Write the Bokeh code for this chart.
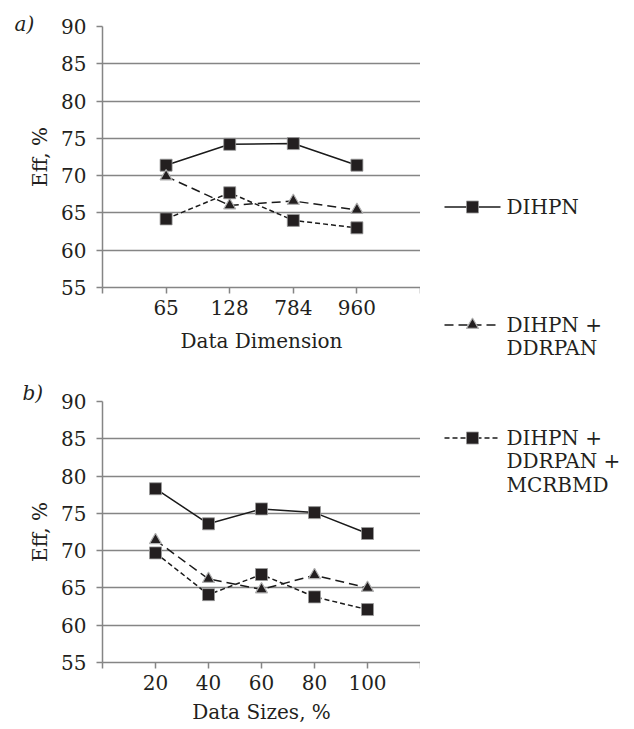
from bokeh.plotting import figure
from bokeh.layouts import row, column
from bokeh.models import Range1d, FixedTicker, Title
from bokeh.core.properties import value
from bokeh.embed import file_html
from bokeh.resources import INLINE

# ---------------- data ----------------
dims = ["65", "128", "784", "960"]
a_dihpn = [71.4, 74.2, 74.3, 71.4]
a_ddrpan = [69.9, 66.0, 66.6, 65.4]
a_mcrbmd = [64.2, 67.7, 64.0, 63.0]

sizes = ["20", "40", "60", "80", "100"]
b_dihpn = [78.3, 73.6, 75.6, 75.1, 72.3]
b_ddrpan = [71.4, 66.2, 64.8, 66.7, 65.0]
b_mcrbmd = [69.7, 64.1, 66.8, 63.8, 62.1]

series_names = ["DIHPN", "DIHPN +\nDDRPAN", "DIHPN +\nDDRPAN +\nMCRBMD"]
y_ticks = [55, 60, 65, 70, 75, 80, 85, 90]

# ---------------- styles ----------------
FONT = "DejaVu Serif"
FS = "20px"
TXT = "#231f20"
GRID = "#858585"
LINE = "#1a1a1a"
styles = [
    dict(dash="solid", marker="square", lc=LINE),
    dict(dash="9 5", marker="triangle", lc=LINE),
    dict(dash="5 3", marker="square", lc=LINE),
]


def add_markers(p, xs, vals, st):
    if st["marker"] == "square":
        p.scatter(xs, vals, marker="square", size=12, fill_color=TXT,
                  line_color="#9a9a9a", line_width=0.8)
    else:
        p.scatter(xs, vals, marker="triangle", size=12, fill_color=TXT,
                  line_color="#b0b0b0", line_width=1.2)


def panel(cats, series, xlabel, tag, top, bottom, tag_off, tag_stand,
          lab_stand, axlab_stand):
    n = len(cats)
    p = figure(frame_width=318, frame_height=261, output_backend="svg",
               toolbar_location=None, x_range=Range1d(0, n + 1),
               y_range=Range1d(55, 90), min_border_left=102,
               min_border_right=0, min_border_top=top,
               min_border_bottom=bottom)
    p.outline_line_color = None
    p.background_fill_color = None
    p.border_fill_color = None
    p.xgrid.visible = False
    p.ygrid.ticker = FixedTicker(ticks=y_ticks)
    p.ygrid.grid_line_color = GRID
    p.ygrid.grid_line_width = 1.5

    xs = list(range(1, n + 1))
    xa = p.xaxis[0]
    xa.ticker = FixedTicker(ticks=list(range(0, n + 2)))
    over = {0: "", n + 1: ""}
    for i, c in enumerate(cats):
        over[i + 1] = c
    xa.major_label_overrides = over
    ya = p.yaxis[0]
    ya.ticker = FixedTicker(ticks=y_ticks)
    for ax in (xa, ya):
        ax.axis_line_color = GRID
        ax.axis_line_width = 1.5
        ax.major_tick_line_color = GRID
        ax.major_tick_line_width = 1.5
        ax.major_tick_in = 0
        ax.major_tick_out = 6
        ax.minor_tick_line_color = None
        ax.major_label_text_font = FONT
        ax.major_label_text_font_size = FS
        ax.major_label_text_color = TXT
        ax.axis_label_text_font = FONT
        ax.axis_label_text_font_size = FS
        ax.axis_label_text_color = TXT
        ax.axis_label_text_font_style = "normal"
    xa.major_label_standoff = lab_stand
    ya.major_label_standoff = 10
    xa.axis_label = xlabel
    xa.axis_label_standoff = axlab_stand
    ya.axis_label = "Eff, %"
    ya.axis_label_standoff = 6

    for vals, st in zip(series, styles):
        p.line(xs, vals, line_color=st["lc"], line_width=1.5,
               line_dash=st["dash"])
    for vals, st in zip(series, styles):
        add_markers(p, xs, vals, st)

    p.add_layout(Title(text=tag, align="left", offset=tag_off,
                       standoff=tag_stand, text_font=FONT,
                       text_font_size=FS, text_font_style="italic",
                       text_color=TXT), "above")
    return p


pa = panel(dims, [a_dihpn, a_ddrpan, a_mcrbmd], "Data Dimension", "a)",
           26, 78, -88, -18, 6, 11)
pb = panel(sizes, [b_dihpn, b_ddrpan, b_mcrbmd], "Data Sizes, %", "b)",
           36, 67, -80, -6, 6, 7)

# ---------------- legend panel ----------------
LW, LH = 214, 729
pl = figure(width=LW, height=LH, output_backend="svg", toolbar_location=None,
            x_range=Range1d(0, LW), y_range=Range1d(LH, 0),
            min_border=0, min_border_left=0, min_border_right=0,
            min_border_top=0, min_border_bottom=0)
pl.axis.visible = False
pl.grid.visible = False
pl.outline_line_color = None
pl.background_fill_color = None
pl.border_fill_color = None

entry_y = [206.5, 324.5, 437.5]
line_x0, line_x1, text_x, line_gap = 24, 80, 86, 23.3
for name, ey, st in zip(series_names, entry_y, styles):
    pl.line([line_x0, line_x1], [ey, ey], line_color=st["lc"],
            line_width=1.5, line_dash=st["dash"])
    add_markers(pl, [(line_x0 + line_x1) / 2], [ey], st)
    lines = name.split("\n")
    pl.text([text_x] * len(lines),
            [ey + k * line_gap for k in range(len(lines))],
            text=lines, text_font=value(FONT), text_font_size=FS,
            text_color=TXT, text_baseline="middle", text_align="left")

layout = row(column(pa, pb), pl)
open("out.html", "w").write(file_html(layout, INLINE))
